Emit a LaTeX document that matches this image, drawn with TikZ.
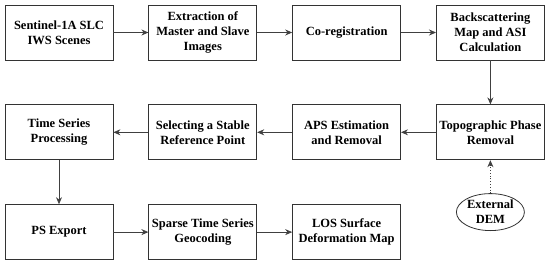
\documentclass[tikz,border=0pt]{standalone}
\usepackage{fontspec}
\setmainfont{Liberation Serif}
\usepackage{tikz}
\usetikzlibrary{arrows.meta,positioning,shapes.geometric}

\begin{document}
\begin{tikzpicture}[
  font=\bfseries\fontsize{12.5}{15}\selectfont,
  node distance=44pt and 35pt,
  st/.style={draw=black!80, line width=0.8pt, align=center, minimum width=108pt, minimum height=55pt, inner sep=1pt},
  ell/.style={draw=black!80, line width=0.8pt, ellipse, align=center, minimum width=68pt, minimum height=37pt, inner sep=0pt},
  arr/.style={-{Stealth[length=7pt,width=6pt]}, line width=0.8pt, draw=black!75},
]
\useasboundingbox (0,0) rectangle (550pt,-263pt);
\node[st] (scenes) at (59pt,-32.5pt) {Sentinel-1A SLC\\IWS Scenes};
\node[st, right=of scenes] (extract) {Extraction of\\Master and Slave\\Images};
\node[st, right=of extract] (coreg) {Co-registration};
\node[st, right=of coreg] (backsc) {Backscattering\\Map and ASI\\Calculation};
\node[st, below=of backsc] (topo) {Topographic Phase\\Removal};
\node[st, left=of topo] (aps) {APS Estimation\\and Removal};
\node[st, left=of aps] (refpt) {Selecting a Stable\\Reference Point};
\node[st, left=of refpt] (tsproc) {Time Series\\Processing};
\node[st, below=of tsproc] (psexp) {PS Export};
\node[st, right=of psexp] (geocod) {Sparse Time Series\\Geocoding};
\node[st, right=of geocod] (losmap) {LOS Surface\\Deformation Map};
\node[ell, below=33pt of topo] (dem) {External\\DEM};
\draw[arr] (scenes) -- (extract);
\draw[arr] (extract) -- (coreg);
\draw[arr] (coreg) -- (backsc);
\draw[arr] (backsc) -- (topo);
\draw[arr] (topo) -- (aps);
\draw[arr] (aps) -- (refpt);
\draw[arr] (refpt) -- (tsproc);
\draw[arr] (tsproc) -- (psexp);
\draw[arr] (psexp) -- (geocod);
\draw[arr] (geocod) -- (losmap);
\draw[arr, dotted] (dem) -- (topo);
\end{tikzpicture}
\end{document}
